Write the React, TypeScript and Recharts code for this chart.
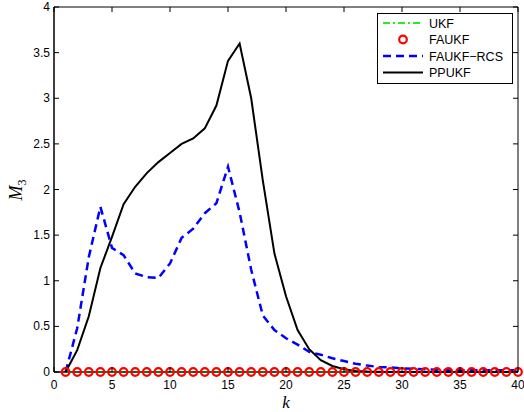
import { ComposedChart, Line, XAxis, YAxis, Label, ReferenceArea } from "recharts";

const K = [
  1, 2, 3, 4, 5, 6, 7, 8, 9, 10, 11, 12, 13, 14, 15, 16, 17, 18, 19, 20,
  21, 22, 23, 24, 25, 26, 27, 28, 29, 30, 31, 32, 33, 34, 35, 36, 37, 38, 39, 40,
];
const UKF = [
  0, 0, 0, 0, 0, 0, 0, 0, 0, 0, 0, 0, 0, 0, 0, 0, 0, 0, 0, 0,
  0, 0, 0, 0, 0, 0, 0, 0, 0, 0, 0, 0, 0, 0, 0, 0, 0, 0, 0, 0,
];
const FAUKF = [
  0, 0, 0, 0, 0, 0, 0, 0, 0, 0, 0, 0, 0, 0, 0, 0, 0, 0, 0, 0,
  0, 0, 0, 0, 0, 0, 0, 0, 0, 0, 0, 0, 0, 0, 0, 0, 0, 0, 0, 0,
];
const FAUKF_RCS = [
  0, 0.48, 1.26, 1.81, 1.36, 1.28, 1.08, 1.04, 1.03, 1.19, 1.47, 1.57, 1.74, 1.85, 2.25, 1.75, 1.12, 0.62, 0.46, 0.37,
  0.3, 0.22, 0.19, 0.15, 0.12, 0.09, 0.07, 0.055, 0.05, 0.04, 0.035, 0.03, 0.025, 0.02, 0.02, 0.02, 0.02, 0.02, 0.02, 0.02,
];
const PPUKF = [
  0, 0.24, 0.61, 1.14, 1.48, 1.84, 2.03, 2.18, 2.3, 2.4, 2.5, 2.56, 2.67, 2.92, 3.41, 3.6, 3.0, 2.1, 1.3, 0.83,
  0.46, 0.25, 0.13, 0.066, 0.03, 0.012, 0.006, 0.003, 0, 0, 0, 0, 0, 0, 0, 0, 0, 0, 0, 0,
];
const X_TICKS = [0, 5, 10, 15, 20, 25, 30, 35, 40];
const Y_TICKS = [0, 0.5, 1, 1.5, 2, 2.5, 3, 3.5, 4];

const data = K.map((k, i) => ({
  k,
  ukf: UKF[i],
  faukf: FAUKF[i],
  rcs: FAUKF_RCS[i],
  pp: PPUKF[i],
}));

const W = 524;
const H = 412;
const M = { top: 7, right: 6, left: 0, bottom: 0 };
const Y_AXIS_W = 54;
const X_AXIS_H = 40;
const PLOT_W = W - M.left - M.right - Y_AXIS_W;
const PLOT_H = H - M.top - M.bottom - X_AXIS_H;

const FONT = "'Liberation Sans', Arial, sans-serif";
const SERIF = "'Liberation Serif', 'Times New Roman', serif";
const TICK = 5;

// left ticks + mirrored right ticks
const leftTick = (p: any) => (
  <g>
    <line x1={p.x} y1={p.y} x2={p.x + TICK} y2={p.y} stroke="#000" />
    <line x1={p.x + PLOT_W} y1={p.y} x2={p.x + PLOT_W - TICK} y2={p.y} stroke="#000" />
    <text x={p.x - 4} y={p.y + 4} textAnchor="end" fontSize={12} fontFamily={FONT} fill="#000">
      {p.payload.value}
    </text>
  </g>
);
// bottom ticks + mirrored top ticks
const bottomTick = (p: any) => (
  <g>
    <line x1={p.x} y1={p.y} x2={p.x} y2={p.y - TICK} stroke="#000" />
    <line x1={p.x} y1={p.y - PLOT_H} x2={p.x} y2={p.y - PLOT_H + TICK} stroke="#000" />
    <text x={p.x} y={p.y + 17} textAnchor="middle" fontSize={12} fontFamily={FONT} fill="#000">
      {p.payload.value}
    </text>
  </g>
);

const LEGEND = [
  { name: "UKF", kind: "dashdot" },
  { name: "FAUKF", kind: "circle" },
  { name: "FAUKF\u2212RCS", kind: "dash" },
  { name: "PPUKF", kind: "solid" },
];

function LegendBox() {
  return (
    <svg width={136} height={71} style={{ display: "block" }}>
      <rect x={0.5} y={0.5} width={135} height={70} fill="#fff" stroke="#000" />
      {LEGEND.map((e, i) => {
        const y = 10 + i * 16.5;
        return (
          <g key={e.name}>
            {e.kind === "dashdot" && (
              <line x1={6} y1={y} x2={46} y2={y} stroke="#22ee22" strokeWidth={2} strokeDasharray="7 3 2 3" />
            )}
            {e.kind === "circle" && (
              <circle cx={26} cy={y} r={3.8} fill="none" stroke="#ff0000" strokeWidth={2.2} />
            )}
            {e.kind === "dash" && (
              <line x1={6} y1={y} x2={46} y2={y} stroke="#0000ff" strokeWidth={2.5} strokeDasharray="8 5" />
            )}
            {e.kind === "solid" && (
              <line x1={6} y1={y} x2={46} y2={y} stroke="#000" strokeWidth={2} />
            )}
            <text x={52} y={y + 4.5} fontSize={12.5} fontFamily={FONT} fill="#000">
              {e.name}
            </text>
          </g>
        );
      })}
    </svg>
  );
}

export default function App() {
  return (
    <div style={{ position: "absolute", left: 0, top: 0, width: W, height: H, background: "#fff" }}>
      <ComposedChart width={W} height={H} data={data} margin={M}>
        <XAxis
          dataKey="k"
          type="number"
          domain={[0, 40]}
          ticks={X_TICKS}
          height={X_AXIS_H}
          stroke="#000"
          tickLine={false}
          tickSize={0}
          tickMargin={0}
          tick={bottomTick}
          interval={0}
        >
          <Label
            content={() => (
              <text x={286} y={408} textAnchor="middle" fontSize={17} fontStyle="italic" fontFamily={SERIF}>
                k
              </text>
            )}
          />
        </XAxis>
        <YAxis
          type="number"
          domain={[0, 4]}
          ticks={Y_TICKS}
          width={Y_AXIS_W}
          stroke="#000"
          tickLine={false}
          tickSize={0}
          tickMargin={0}
          tick={leftTick}
          interval={0}
        >
          <Label
            content={() => (
              <text
                transform="translate(22,190) rotate(-90)"
                textAnchor="middle"
                fontSize={18}
                fontStyle="italic"
                fontFamily={SERIF}
              >
                M
                <tspan fontSize={12} dy={4} fontStyle="normal">3</tspan>
              </text>
            )}
          />
        </YAxis>
        <ReferenceArea x1={0} x2={40} y1={0} y2={4} fill="none" stroke="#000" strokeWidth={1} />
        <Line
          dataKey="ukf"
          stroke="#22ee22"
          strokeWidth={2}
          strokeDasharray="7 3 2 3"
          dot={false}
          isAnimationActive={false}
        />
        <Line
          dataKey="faukf"
          stroke="none"
          dot={{ r: 3.8, stroke: "#ff0000", strokeWidth: 2.2, fill: "none", clipDot: false }}
          activeDot={false}
          isAnimationActive={false}
        />
        <Line
          dataKey="rcs"
          stroke="#0000ff"
          strokeWidth={2.5}
          strokeDasharray="8 5"
          dot={false}
          isAnimationActive={false}
        />
        <Line
          dataKey="pp"
          stroke="#000"
          strokeWidth={2}
          dot={false}
          isAnimationActive={false}
        />
      </ComposedChart>
      <div style={{ position: "absolute", left: 377, top: 13 }}>
        <LegendBox />
      </div>
    </div>
  );
}
